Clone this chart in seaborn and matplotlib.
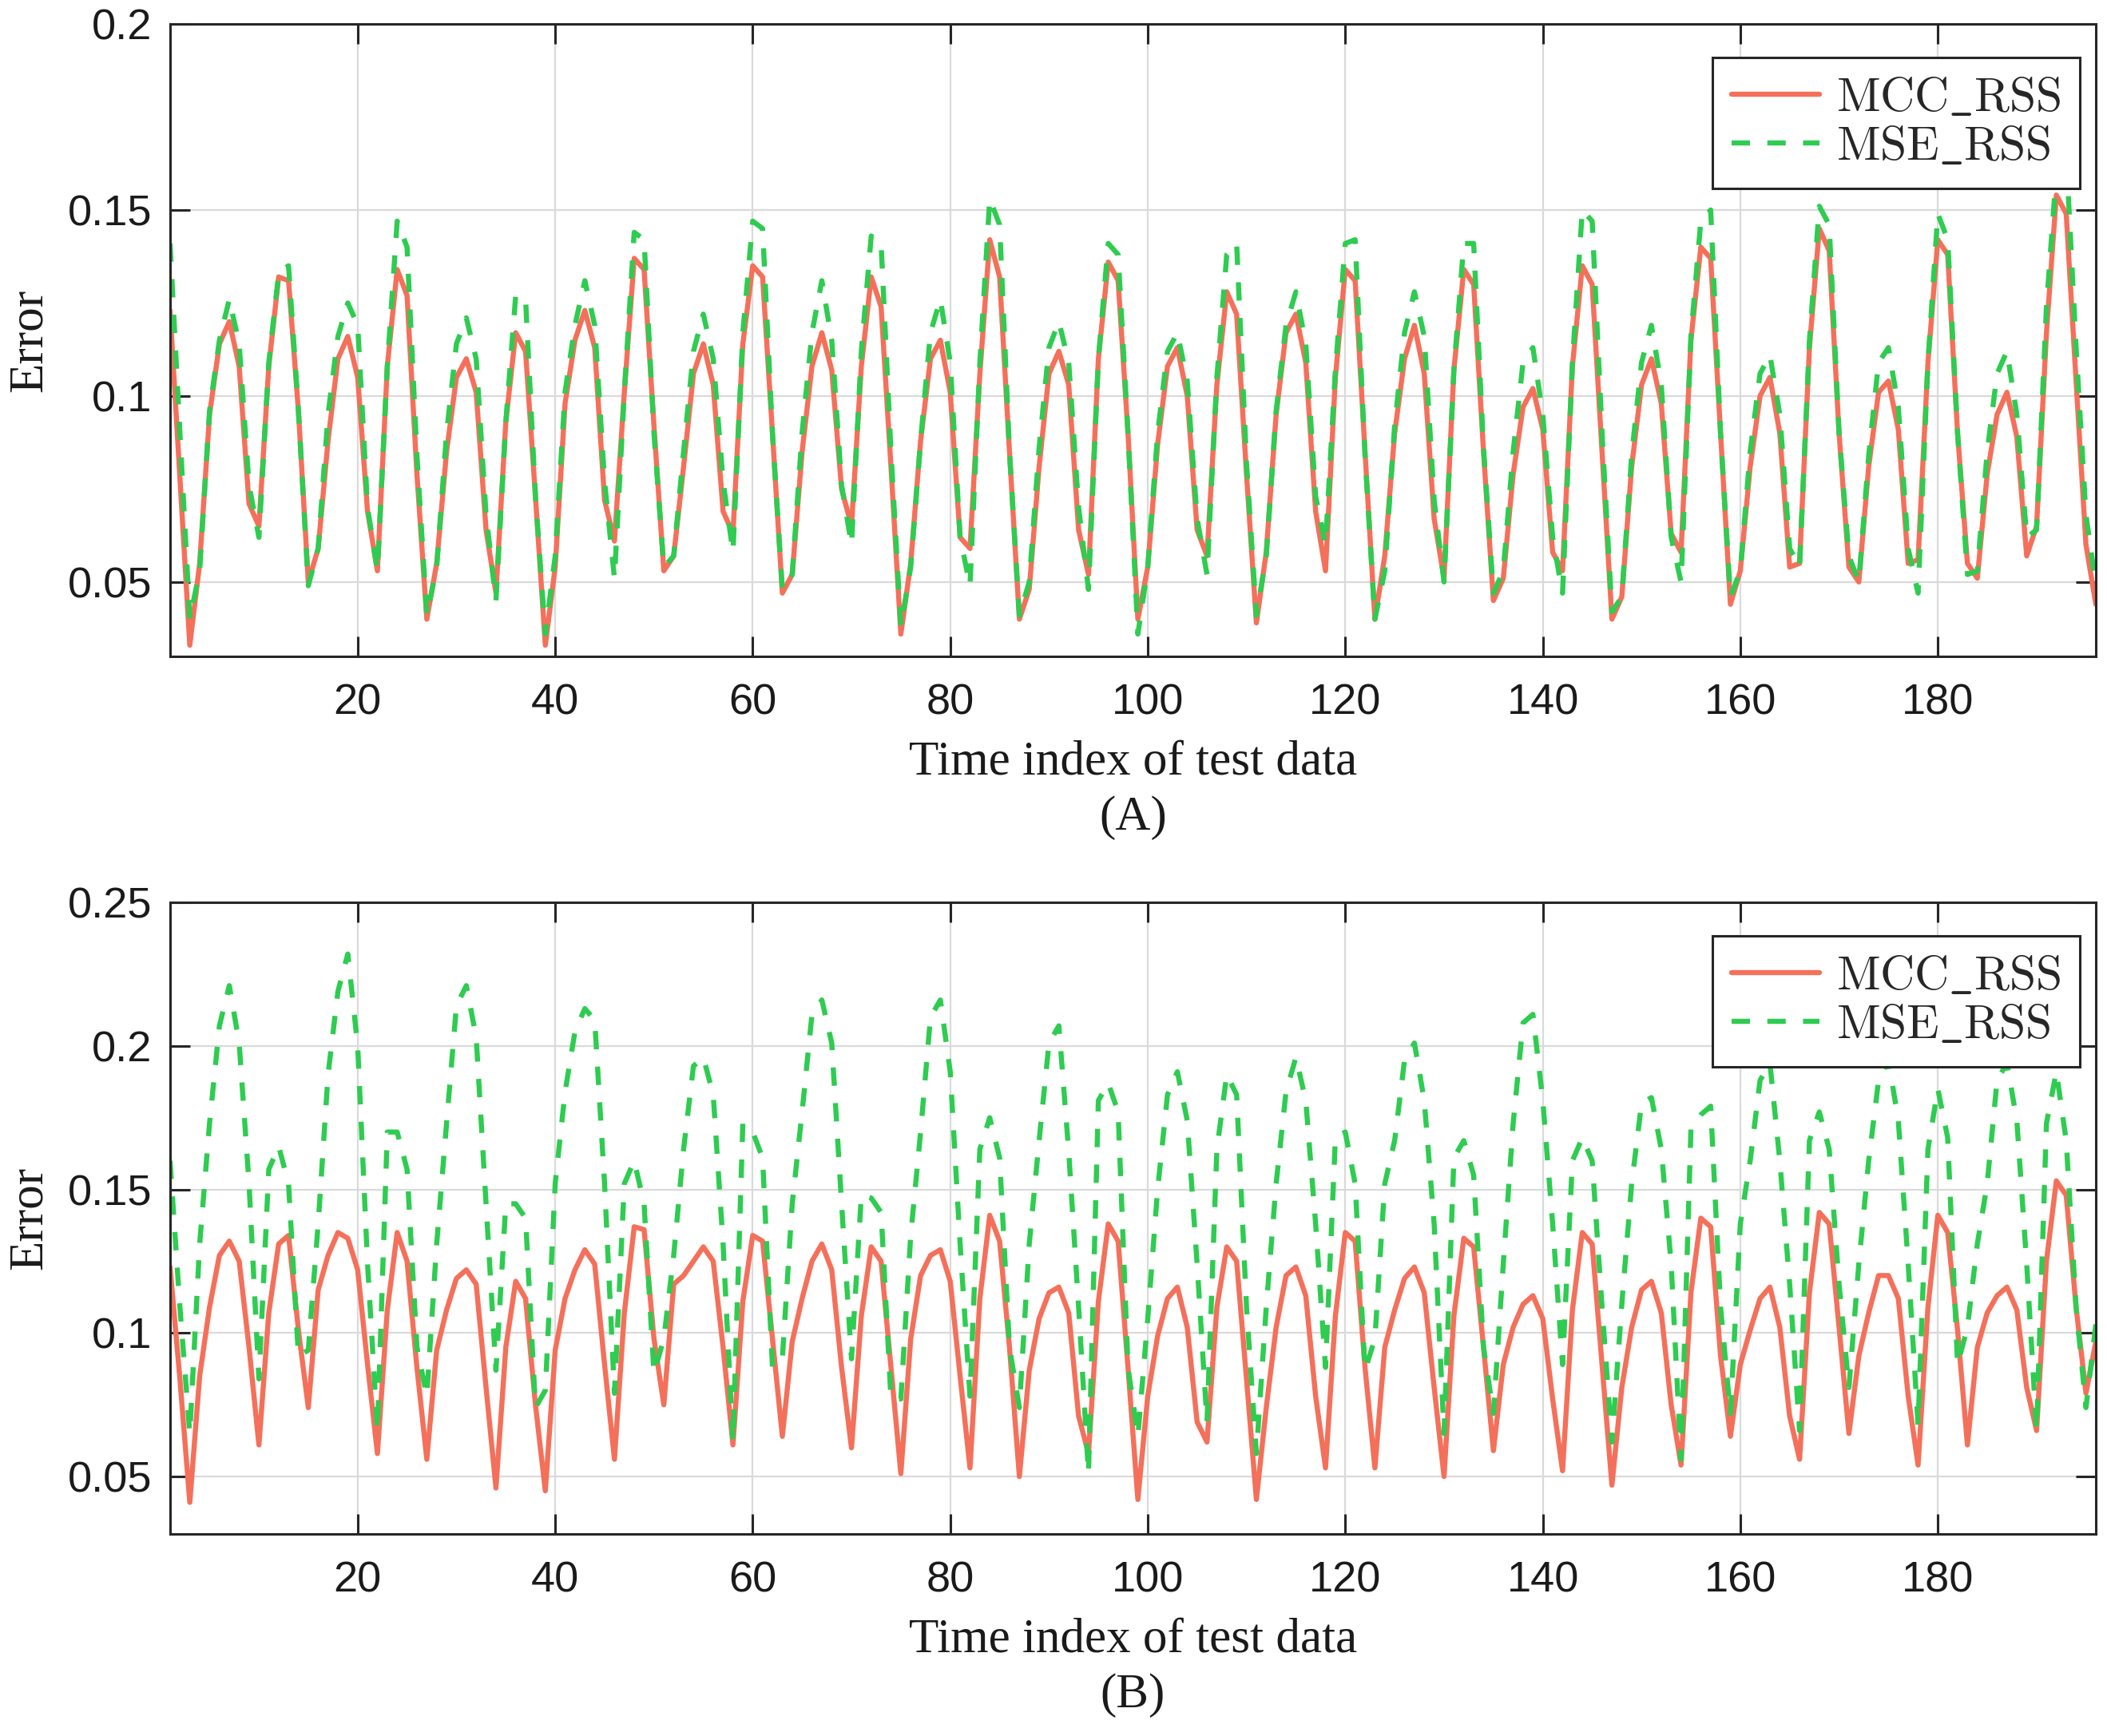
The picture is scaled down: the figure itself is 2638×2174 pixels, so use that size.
import matplotlib
matplotlib.use('Agg')
import matplotlib.pyplot as plt
import seaborn as sns
import numpy as np
import pandas as pd

# time index 1..196 and the two error curves per panel
time_idx = list(range(1, 197))

mcc_a = [0.123, 0.078, 0.033, 0.055, 0.095, 0.114, 0.120, 0.108, 0.071, 0.065,
         0.108, 0.132, 0.131, 0.096, 0.050, 0.059, 0.088, 0.110, 0.116, 0.105,
         0.069, 0.053, 0.108, 0.134, 0.127, 0.079, 0.040, 0.055, 0.085, 0.105,
         0.110, 0.101, 0.064, 0.047, 0.093, 0.117, 0.112, 0.073, 0.033, 0.054,
         0.098, 0.115, 0.123, 0.113, 0.072, 0.061, 0.101, 0.137, 0.134, 0.092,
         0.053, 0.057, 0.081, 0.106, 0.114, 0.103, 0.069, 0.063, 0.114, 0.135,
         0.132, 0.090, 0.047, 0.052, 0.085, 0.108, 0.117, 0.107, 0.075, 0.065,
         0.108, 0.132, 0.124, 0.081, 0.036, 0.055, 0.088, 0.110, 0.115, 0.101,
         0.062, 0.059, 0.106, 0.142, 0.132, 0.085, 0.040, 0.048, 0.081, 0.106,
         0.112, 0.103, 0.064, 0.052, 0.110, 0.136, 0.131, 0.090, 0.040, 0.054,
         0.087, 0.108, 0.113, 0.100, 0.064, 0.057, 0.103, 0.128, 0.122, 0.079,
         0.039, 0.058, 0.095, 0.117, 0.122, 0.109, 0.069, 0.053, 0.105, 0.134,
         0.131, 0.085, 0.040, 0.057, 0.090, 0.110, 0.119, 0.106, 0.067, 0.051,
         0.107, 0.134, 0.130, 0.085, 0.045, 0.051, 0.079, 0.097, 0.102, 0.091,
         0.058, 0.053, 0.108, 0.135, 0.130, 0.085, 0.040, 0.046, 0.081, 0.103,
         0.110, 0.098, 0.063, 0.058, 0.115, 0.140, 0.137, 0.090, 0.044, 0.053,
         0.081, 0.100, 0.105, 0.090, 0.054, 0.055, 0.113, 0.145, 0.139, 0.090,
         0.054, 0.050, 0.081, 0.101, 0.104, 0.091, 0.055, 0.056, 0.109, 0.142,
         0.138, 0.090, 0.055, 0.051, 0.079, 0.095, 0.101, 0.089, 0.057, 0.065,
         0.117, 0.154, 0.149, 0.104, 0.060, 0.044]

mse_a = [0.141, 0.090, 0.040, 0.053, 0.096, 0.115, 0.126, 0.114, 0.076, 0.062,
         0.109, 0.133, 0.135, 0.096, 0.049, 0.059, 0.095, 0.116, 0.125, 0.119,
         0.070, 0.053, 0.108, 0.147, 0.140, 0.084, 0.041, 0.054, 0.090, 0.114,
         0.121, 0.110, 0.068, 0.045, 0.093, 0.127, 0.126, 0.073, 0.036, 0.057,
         0.101, 0.119, 0.131, 0.119, 0.077, 0.051, 0.101, 0.144, 0.142, 0.090,
         0.054, 0.057, 0.085, 0.112, 0.122, 0.110, 0.077, 0.058, 0.117, 0.147,
         0.145, 0.090, 0.048, 0.052, 0.090, 0.117, 0.131, 0.115, 0.076, 0.060,
         0.112, 0.143, 0.141, 0.085, 0.038, 0.054, 0.088, 0.117, 0.126, 0.109,
         0.062, 0.049, 0.109, 0.153, 0.146, 0.085, 0.041, 0.050, 0.086, 0.113,
         0.120, 0.109, 0.070, 0.048, 0.110, 0.141, 0.138, 0.090, 0.036, 0.054,
         0.090, 0.112, 0.117, 0.104, 0.067, 0.052, 0.105, 0.138, 0.141, 0.082,
         0.041, 0.057, 0.096, 0.119, 0.128, 0.114, 0.073, 0.060, 0.107, 0.141,
         0.142, 0.084, 0.040, 0.053, 0.092, 0.117, 0.128, 0.116, 0.072, 0.050,
         0.107, 0.141, 0.141, 0.086, 0.047, 0.053, 0.085, 0.109, 0.113, 0.095,
         0.062, 0.047, 0.109, 0.150, 0.147, 0.090, 0.042, 0.046, 0.084, 0.109,
         0.119, 0.103, 0.062, 0.050, 0.116, 0.147, 0.150, 0.090, 0.046, 0.053,
         0.085, 0.106, 0.111, 0.095, 0.059, 0.054, 0.115, 0.151, 0.146, 0.090,
         0.057, 0.050, 0.084, 0.109, 0.113, 0.097, 0.059, 0.047, 0.109, 0.149,
         0.142, 0.090, 0.052, 0.053, 0.085, 0.106, 0.112, 0.095, 0.062, 0.064,
         0.124, 0.160, 0.165, 0.113, 0.068, 0.049]

mcc_b = [0.123, 0.084, 0.041, 0.085, 0.109, 0.127, 0.132, 0.125, 0.095, 0.061,
         0.107, 0.131, 0.134, 0.101, 0.074, 0.115, 0.127, 0.135, 0.133, 0.122,
         0.089, 0.058, 0.108, 0.135, 0.125, 0.088, 0.056, 0.094, 0.108, 0.119,
         0.122, 0.117, 0.081, 0.046, 0.095, 0.118, 0.112, 0.075, 0.045, 0.094,
         0.112, 0.122, 0.129, 0.124, 0.089, 0.056, 0.107, 0.137, 0.136, 0.098,
         0.075, 0.117, 0.120, 0.125, 0.130, 0.125, 0.095, 0.061, 0.111, 0.134,
         0.132, 0.098, 0.064, 0.097, 0.112, 0.125, 0.131, 0.122, 0.088, 0.060,
         0.106, 0.130, 0.125, 0.088, 0.051, 0.098, 0.120, 0.127, 0.129, 0.118,
         0.085, 0.053, 0.112, 0.141, 0.132, 0.095, 0.050, 0.087, 0.105, 0.114,
         0.116, 0.107, 0.071, 0.058, 0.111, 0.138, 0.132, 0.088, 0.042, 0.078,
         0.099, 0.112, 0.116, 0.102, 0.069, 0.062, 0.109, 0.130, 0.125, 0.084,
         0.042, 0.074, 0.102, 0.120, 0.123, 0.113, 0.078, 0.053, 0.106, 0.135,
         0.132, 0.088, 0.053, 0.095, 0.108, 0.119, 0.123, 0.114, 0.081, 0.050,
         0.106, 0.133, 0.130, 0.095, 0.059, 0.089, 0.102, 0.110, 0.113, 0.105,
         0.077, 0.052, 0.108, 0.135, 0.131, 0.089, 0.047, 0.081, 0.102, 0.115,
         0.118, 0.107, 0.075, 0.054, 0.114, 0.140, 0.137, 0.092, 0.064, 0.089,
         0.101, 0.112, 0.116, 0.102, 0.071, 0.056, 0.114, 0.142, 0.138, 0.102,
         0.065, 0.092, 0.107, 0.120, 0.120, 0.112, 0.078, 0.054, 0.109, 0.141,
         0.135, 0.101, 0.061, 0.095, 0.107, 0.113, 0.116, 0.108, 0.081, 0.066,
         0.125, 0.153, 0.148, 0.109, 0.079, 0.097]

mse_b = [0.160, 0.109, 0.065, 0.131, 0.173, 0.207, 0.221, 0.201, 0.152, 0.084,
         0.157, 0.165, 0.152, 0.092, 0.094, 0.138, 0.190, 0.219, 0.232, 0.200,
         0.124, 0.066, 0.170, 0.170, 0.157, 0.095, 0.078, 0.131, 0.173, 0.214,
         0.221, 0.203, 0.145, 0.087, 0.145, 0.145, 0.140, 0.074, 0.080, 0.152,
         0.184, 0.205, 0.213, 0.209, 0.152, 0.079, 0.152, 0.160, 0.145, 0.086,
         0.098, 0.127, 0.164, 0.193, 0.196, 0.183, 0.131, 0.062, 0.173, 0.170,
         0.161, 0.088, 0.091, 0.145, 0.177, 0.211, 0.216, 0.201, 0.145, 0.091,
         0.148, 0.147, 0.142, 0.077, 0.077, 0.134, 0.170, 0.210, 0.216, 0.191,
         0.131, 0.078, 0.164, 0.175, 0.161, 0.095, 0.074, 0.131, 0.167, 0.201,
         0.207, 0.163, 0.109, 0.051, 0.181, 0.187, 0.177, 0.088, 0.064, 0.105,
         0.150, 0.183, 0.191, 0.174, 0.124, 0.069, 0.164, 0.190, 0.183, 0.109,
         0.058, 0.109, 0.152, 0.184, 0.196, 0.181, 0.138, 0.088, 0.168, 0.170,
         0.152, 0.087, 0.098, 0.152, 0.167, 0.195, 0.201, 0.181, 0.138, 0.065,
         0.161, 0.167, 0.155, 0.095, 0.072, 0.124, 0.173, 0.208, 0.211, 0.181,
         0.138, 0.089, 0.160, 0.168, 0.160, 0.109, 0.062, 0.110, 0.152, 0.180,
         0.182, 0.164, 0.124, 0.056, 0.171, 0.176, 0.179, 0.109, 0.072, 0.138,
         0.160, 0.188, 0.194, 0.160, 0.117, 0.066, 0.167, 0.177, 0.164, 0.117,
         0.081, 0.124, 0.160, 0.188, 0.195, 0.174, 0.124, 0.068, 0.164, 0.185,
         0.168, 0.089, 0.102, 0.131, 0.152, 0.188, 0.194, 0.174, 0.124, 0.066,
         0.173, 0.191, 0.167, 0.109, 0.074, 0.103]

x_ticks = [20, 40, 60, 80, 100, 120, 140, 160, 180]
y_ticks_a = [0.05, 0.1, 0.15, 0.2]
y_ticks_b = [0.05, 0.1, 0.15, 0.2, 0.25]
y_labels_a = ['0.05', '0.1', '0.15', '0.2']
y_labels_b = ['0.05', '0.1', '0.15', '0.2', '0.25']

RED = '#F4705A'
GREEN = '#2ECC50'
SANS = 'Liberation Sans'
SERIF = 'Liberation Serif'

sns.set_theme(style='ticks')
plt.rcParams['font.family'] = [SANS, 'DejaVu Sans']
plt.rcParams['mathtext.fontset'] = 'cm'
plt.rcParams['axes.edgecolor'] = '#262626'
plt.rcParams['axes.linewidth'] = 1.1


def draw_panel(ax, mcc, mse, ylim, yticks, ylabels, tag):
    df = pd.DataFrame({'t': time_idx, 'mcc': mcc, 'mse': mse})
    sns.lineplot(data=df, x='t', y='mcc', ax=ax, color=RED, lw=2.3,
                 label=r'$\mathrm{MCC\_RSS}$')
    sns.lineplot(data=df, x='t', y='mse', ax=ax, color=GREEN, lw=2.3,
                 linestyle=(0, (3.6, 3.4)), label=r'$\mathrm{MSE\_RSS}$')

    ax.set_xlim(1, 196)
    ax.set_ylim(*ylim)
    ax.set_xticks(x_ticks)
    ax.set_yticks(yticks)
    ax.set_yticklabels(ylabels)
    ax.grid(True, color='#DADADA', lw=0.8)
    ax.set_axisbelow(True)
    ax.tick_params(direction='in', length=9, width=1.1, top=True, right=True,
                   labelsize=19.5, colors='#262626')
    ax.tick_params(axis='x', pad=12, labelcolor='#1a1a1a')
    ax.tick_params(axis='y', pad=8, labelcolor='#1a1a1a')
    for sp in ax.spines.values():
        sp.set_visible(True)

    ax.set_xlabel('Time index of test data', family=SERIF, fontsize=22,
                  color='#1a1a1a', va='center')
    ax.xaxis.set_label_coords(0.5, -0.168)
    ax.set_ylabel('Error', family=SERIF, fontsize=22, color='#1a1a1a',
                  va='center')
    ax.yaxis.set_label_coords(-0.073, 0.5)
    ax.text(0.5, -0.255, tag, transform=ax.transAxes, ha='center',
            va='center', family=SERIF, fontsize=22, color='#1a1a1a')

    leg = ax.legend(loc='upper right', bbox_to_anchor=(0.9917, 0.947),
                    borderaxespad=0, fontsize=21.5, frameon=True,
                    fancybox=False, edgecolor='#262626', framealpha=1,
                    handlelength=1.85, handletextpad=0.35, labelspacing=0.1,
                    borderpad=0.4)
    leg.get_frame().set_linewidth(1.1)


fig = plt.figure(figsize=(13.19, 10.87), dpi=200)
ax_a = fig.add_axes([0.0807, 0.6219, 0.914, 0.3643])
ax_b = fig.add_axes([0.0807, 0.1164, 0.914, 0.3638])

draw_panel(ax_a, mcc_a, mse_a, (0.03, 0.2), y_ticks_a, y_labels_a, '(A)')
draw_panel(ax_b, mcc_b, mse_b, (0.03, 0.25), y_ticks_b, y_labels_b, '(B)')

fig.savefig('out.png', dpi=200, facecolor='white')
print("Saved out.png")
